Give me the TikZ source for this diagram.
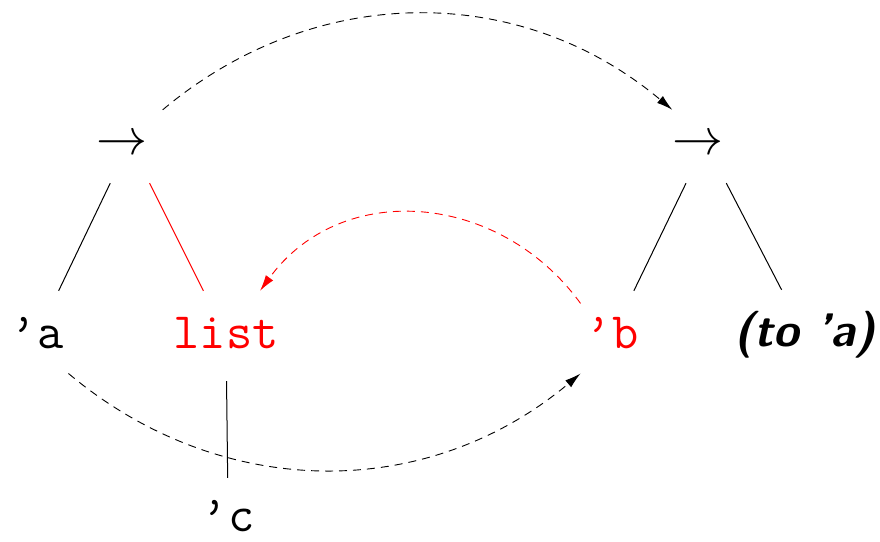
\documentclass[tikz,border=0pt]{standalone}
\usepackage{tikz}
\usepackage{graphicx}
\usepackage{amsmath}
\usepackage{xcolor}
\usetikzlibrary{arrows.meta,positioning,calc}

\begin{document}
\begin{tikzpicture}[x=1pt,y=1pt,
  root/.style={anchor=base,inner sep=0pt,text height=52pt,text depth=28pt},
  leaf/.style={anchor=base,inner sep=0pt,text height=57pt,text depth=33pt,font=\fontsize{51}{60}\selectfont\ttfamily},
  link/.style={dash pattern=on 8pt off 6pt,line width=0.9pt,-{Latex[length=16pt,width=9pt]}}]
\useasboundingbox (0,0) rectangle (880,541);

\node[root] (lroot) at (129.5,386) {\scalebox{5.1}{$\rightarrow$}\hspace*{15pt}};
\node[root] (rroot) at (705.5,386) {\scalebox{5.1}{$\rightarrow$}\hspace*{15pt}};
\node[leaf,inner xsep=5pt] (qa) at (37,193) {’a};
\node[leaf,red] (list) at (226,193) {list};
\node[leaf,text height=53pt,text depth=2pt] (qc) at (228,10) {’c};
\node[leaf,red,inner xsep=5pt] (qb) at (612,193) {’b};
\node[leaf,font=\fontsize{47}{58}\selectfont\sffamily\bfseries\itshape] (qto) at (805,194) {(to ’a)};

\draw[line width=1pt] (lroot) -- (qa);
\draw[line width=1pt,red] (lroot) -- (list);
\draw[line width=1pt] (list) -- (qc);
\draw[line width=1pt] (rroot) -- (qb);
\draw[line width=1pt] (rroot) -- (qto);

% links between the trees
\draw[link] (lroot.45) to[bend left=40] (rroot.135);
\draw[link] (qa.-50) to[bend right=40] (qb.-130);
\draw[link,red] (qb.134) to[out=126,in=54,looseness=1.1] (list.53);
\end{tikzpicture}
\end{document}
